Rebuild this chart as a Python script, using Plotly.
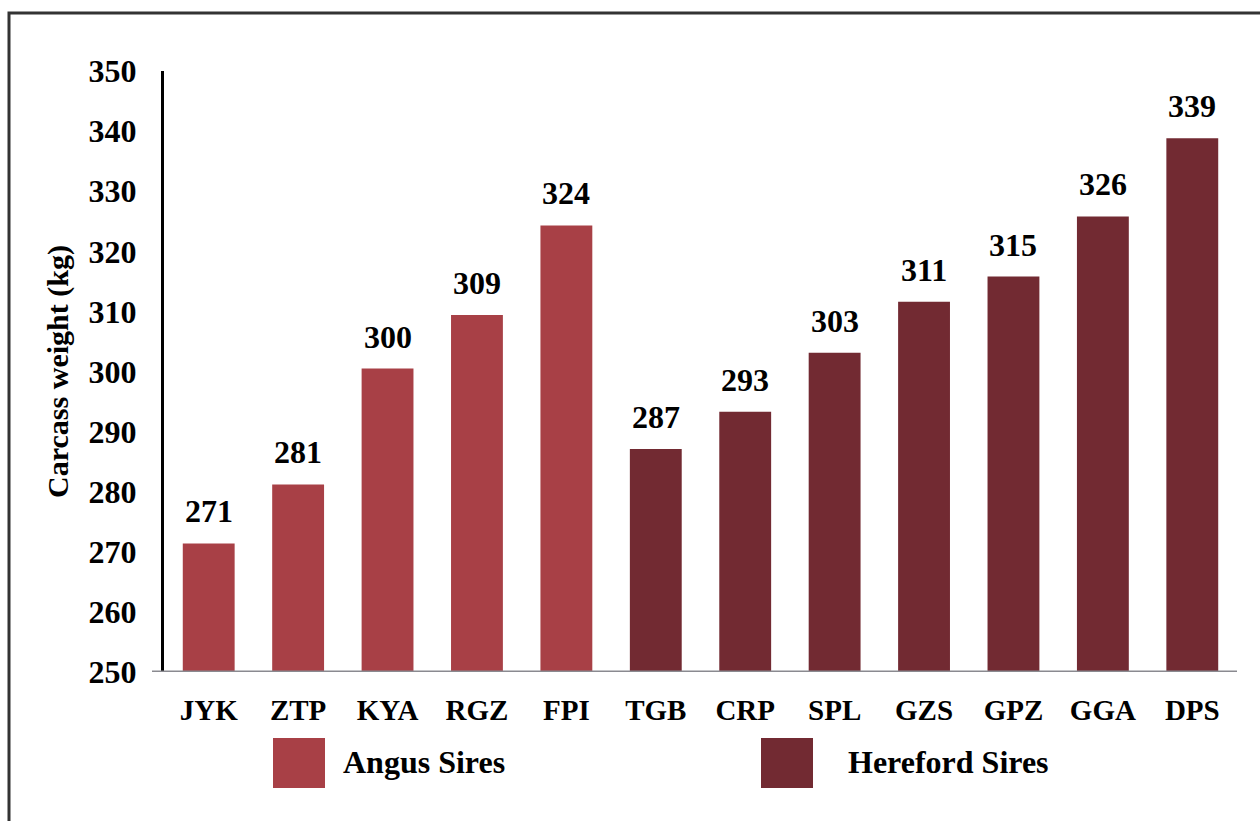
import plotly.graph_objects as go

angus_sires = ["JYK", "ZTP", "KYA", "RGZ", "FPI"]
angus_values = [271.4, 281.2, 300.5, 309.4, 324.3]
angus_labels = ["271", "281", "300", "309", "324"]

hereford_sires = ["TGB", "CRP", "SPL", "GZS", "GPZ", "GGA", "DPS"]
hereford_values = [287.1, 293.3, 303.1, 311.6, 315.8, 325.8, 338.8]
hereford_labels = ["287", "293", "303", "311", "315", "326", "339"]

y_ticks = [250, 260, 270, 280, 290, 300, 310, 320, 330, 340, 350]

ANGUS = "#A84046"
HEREFORD = "#722A32"
FONT = "Liberation Serif, Times New Roman, serif"

W, H = 1260, 821
L, R, T, B = 164, 1237, 71, 672


def px(x):
    return (x - L) / (R - L)


def py(y):
    return (B - y) / (B - T)


def f(size=32):
    return dict(family=FONT, size=size, color="black", weight="bold")


fig = go.Figure()
fig.add_trace(go.Bar(x=angus_sires, y=angus_values, marker_color=ANGUS,
                     marker_line_width=0, name="Angus Sires", showlegend=False))
fig.add_trace(go.Bar(x=hereford_sires, y=hereford_values, marker_color=HEREFORD,
                     marker_line_width=0, name="Hereford Sires", showlegend=False))

annotations = []
for cats, vals, labs in [(angus_sires, angus_values, angus_labels),
                         (hereford_sires, hereford_values, hereford_labels)]:
    for c, v, t in zip(cats, vals, labs):
        annotations.append(dict(x=c, y=v, xref="x", yref="y", text=t,
                                showarrow=False, yshift=32, font=f(32)))

# legend
shapes = []
for x0, col, label, tx in [(273, ANGUS, "Angus Sires", 341), (761, HEREFORD, "Hereford Sires", 846)]:
    shapes.append(dict(type="rect", xref="paper", yref="paper",
                       x0=px(x0), x1=px(x0 + 52), y0=py(788), y1=py(738),
                       fillcolor=col, line_width=0))
    annotations.append(dict(x=px(tx), y=py(762), xref="paper", yref="paper",
                            text=label, showarrow=False,
                            xanchor="left", yanchor="middle", font=f(32)))

# baseline
shapes.append(dict(type="line", xref="paper", yref="y", x0=px(152), x1=1.0,
                   y0=250, y1=250, line=dict(color="#8A8A90", width=3)))
# frame
shapes.append(dict(type="rect", xref="paper", yref="paper",
                   x0=px(9), x1=px(1275), y0=py(840), y1=py(13),
                   line=dict(color="#333333", width=3), fillcolor="rgba(0,0,0,0)"))

fig.update_layout(
    width=W, height=H,
    margin=dict(l=L, r=W - R, t=T, b=H - B),
    paper_bgcolor="white", plot_bgcolor="white",
    barmode="overlay", bargap=0.42,
    font=dict(family=FONT, color="black"),
    annotations=annotations, shapes=shapes,
    xaxis=dict(type="category", categoryorder="array",
               categoryarray=angus_sires + hereford_sires,
               showline=False, showgrid=False, zeroline=False, ticks="",
               tickfont=f(29), ticklabelstandoff=18),
    yaxis=dict(range=[250, 350], tickvals=y_ticks,
               showline=True, linecolor="black", linewidth=3,
               showgrid=False, zeroline=False, ticks="",
               tickfont=f(32), ticklabelstandoff=18,
               title=dict(text="Carcass weight (kg)", standoff=12, font=f(30))),
)

fig.write_html("out.html", config={"displayModeBar": False},
               post_script="document.body.style.margin='0';")
